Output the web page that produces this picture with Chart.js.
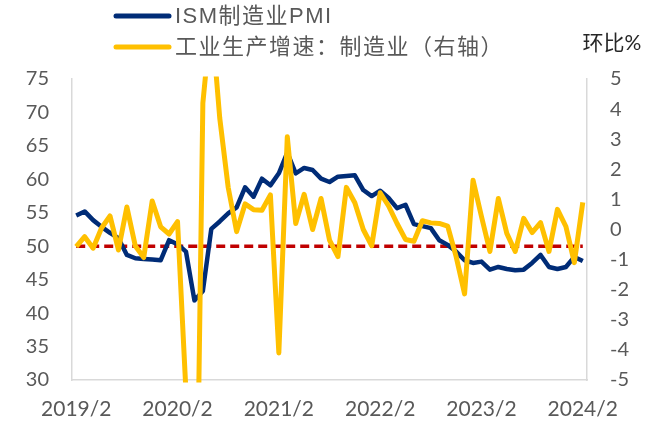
<!DOCTYPE html>
<html>
<head>
<meta charset="utf-8">
<script src="https://cdn.jsdelivr.net/npm/chart.js@4.4.1/dist/chart.umd.min.js"></script>
<style>
    html, body { margin: 0; padding: 0; background: #fff; }
    #grafico { display: block; }
</style>
</head>
<body>
<canvas id="grafico" width="660" height="421"></canvas>
<script>
const meses = [
    '2019/2','2019/3','2019/4','2019/5','2019/6','2019/7','2019/8','2019/9','2019/10','2019/11','2019/12',
    '2020/1','2020/2','2020/3','2020/4','2020/5','2020/6','2020/7','2020/8','2020/9','2020/10','2020/11','2020/12',
    '2021/1','2021/2','2021/3','2021/4','2021/5','2021/6','2021/7','2021/8','2021/9','2021/10','2021/11','2021/12',
    '2022/1','2022/2','2022/3','2022/4','2022/5','2022/6','2022/7','2022/8','2022/9','2022/10','2022/11','2022/12',
    '2023/1','2023/2','2023/3','2023/4','2023/5','2023/6','2023/7','2023/8','2023/9','2023/10','2023/11','2023/12',
    '2024/1','2024/2'
];
const rotulosEixo = ['2019/2', '2020/2', '2021/2', '2022/2', '2023/2', '2024/2'];

// ISM制造业PMI (left axis)
const pmiIsm = [
    54.6, 55.2, 53.9, 52.9, 52.0, 51.2, 48.7, 48.2, 48.1, 48.0, 47.9,
    50.9, 50.3, 49.2, 41.9, 43.3, 52.6, 53.7, 54.9, 55.8, 58.8, 57.4, 60.1,
    59.1, 60.9, 64.0, 60.9, 61.7, 61.4, 60.1, 59.6, 60.4, 60.5, 60.6, 58.4,
    57.5, 58.3, 57.2, 55.7, 56.2, 53.3, 53.0, 52.7, 50.9, 50.2, 49.2, 47.9,
    47.5, 47.7, 46.5, 46.9, 46.6, 46.4, 46.5, 47.5, 48.7, 46.9, 46.6, 46.9,
    48.4, 47.8
];

// 工业生产增速：制造业, 环比% (right axis)
const producaoManuf = [
    -0.57, -0.24, -0.62, 0.05, 0.45, -0.68, 0.75, -0.55, -0.93, 0.95, 0.09,
    -0.15, 0.26, -5.4, -15.5, 4.2, 7.1, 3.7, 1.4, -0.07, 0.85, 0.66, 0.64,
    1.15, -4.1, 3.08, 0.2, 1.17, 0.0, 1.03, -0.35, -0.9, 1.4, 0.89, 0.0,
    -0.54, 1.22, 0.78, 0.2, -0.33, -0.39, 0.29, 0.22, 0.2, 0.11, -0.9, -2.14,
    1.64, 0.43, -0.73, 1.03, -0.13, -0.73, 0.37, -0.1, 0.23, -0.73, 0.67, 0.1,
    -1.1, 0.9
];

const linhaReferencia = 50;

const corTexto = '#595959';
const fonteLatina = 'Lato';
const fonteCJK = "'Noto Sans CJK SC'";

// legend is drawn by hand: two stacked rows at the top left, plus the right axis unit
const legendaManual = {
    id: 'legendaManual',
    afterDraw(chart) {
        const ctx = chart.ctx;
        const linhas = [0, 1].map(i => chart.data.datasets[i]);
        const ys = [16, 47];
        ctx.save();
        linhas.forEach((ds, i) => {
            ctx.beginPath();
            ctx.strokeStyle = ds.borderColor;
            ctx.lineWidth = 5;
            ctx.lineCap = 'round';
            ctx.moveTo(116, ys[i]);
            ctx.lineTo(169, ys[i]);
            ctx.stroke();

            ctx.fillStyle = corTexto;
            ctx.font = `22px 'Liberation Sans', ${fonteCJK}`;
            ctx.textBaseline = 'middle';
            ctx.textAlign = 'left';
            ctx.letterSpacing = '1.5px';
            ctx.fillText(ds.label, 175, ys[i] + 1);
        });
        ctx.letterSpacing = '0px';
        ctx.fillStyle = '#262626';
        ctx.font = `21px ${fonteLatina}, ${fonteCJK}`;
        ctx.textAlign = 'center';
        ctx.fillText('环比%', 612, 43);
        ctx.restore();
    }
};

new Chart(document.getElementById('grafico'), {
    type: 'line',
    data: {
        labels: meses,
        datasets: [
            {
                label: 'ISM制造业PMI',
                data: pmiIsm,
                yAxisID: 'y',
                borderColor: '#002c77',
                borderWidth: 4.5,
                pointRadius: 0,
                borderJoinStyle: 'round',
                tension: 0,
                order: 2
            },
            {
                label: '工业生产增速：制造业（右轴）',
                data: producaoManuf,
                yAxisID: 'y2',
                borderColor: '#ffc000',
                borderWidth: 5,
                pointRadius: 0,
                borderJoinStyle: 'round',
                tension: 0,
                clip: 2.5,
                order: 1
            },
            {
                label: '50',
                data: meses.map(() => linhaReferencia),
                yAxisID: 'y',
                borderColor: '#c00000',
                borderWidth: 3.5,
                borderDash: [9, 5],
                pointRadius: 0,
                order: 3
            }
        ]
    },
    options: {
        responsive: false,
        animation: false,
        devicePixelRatio: 1,
        layout: { padding: { top: 79, left: 0, right: 0, bottom: 0 } },
        plugins: {
            legend: { display: false },
            tooltip: { enabled: false }
        },
        scales: {
            x: {
                offset: true,
                grid: { display: false, drawTicks: false },
                border: { display: true, color: '#d9d9d9', width: 1.5 },
                afterFit: s => { s.height = 41; },
                ticks: {
                    autoSkip: false,
                    maxRotation: 0,
                    minRotation: 0,
                    padding: 17,
                    color: corTexto,
                    font: { family: fonteLatina, size: 21 },
                    callback: function (value) {
                        const rotulo = this.getLabelForValue(value);
                        return rotulosEixo.includes(rotulo) ? rotulo : '';
                    }
                }
            },
            y: {
                position: 'left',
                min: 30,
                max: 75,
                grid: { display: false, drawTicks: false },
                border: { display: true, color: '#d9d9d9', width: 1.5 },
                afterFit: s => { s.width = 72; },
                ticks: {
                    stepSize: 5,
                    padding: 23,
                    color: corTexto,
                    font: { family: fonteLatina, size: 20 }
                }
            },
            y2: {
                position: 'right',
                min: -5,
                max: 5,
                grid: { display: false, drawTicks: false },
                border: { display: true, color: '#d9d9d9', width: 1.5 },
                afterFit: s => { s.width = 73; },
                ticks: {
                    stepSize: 1,
                    padding: 23,
                    color: corTexto,
                    font: { family: fonteLatina, size: 20 }
                }
            }
        }
    },
    plugins: [legendaManual]
});
</script>
</body>
</html>
